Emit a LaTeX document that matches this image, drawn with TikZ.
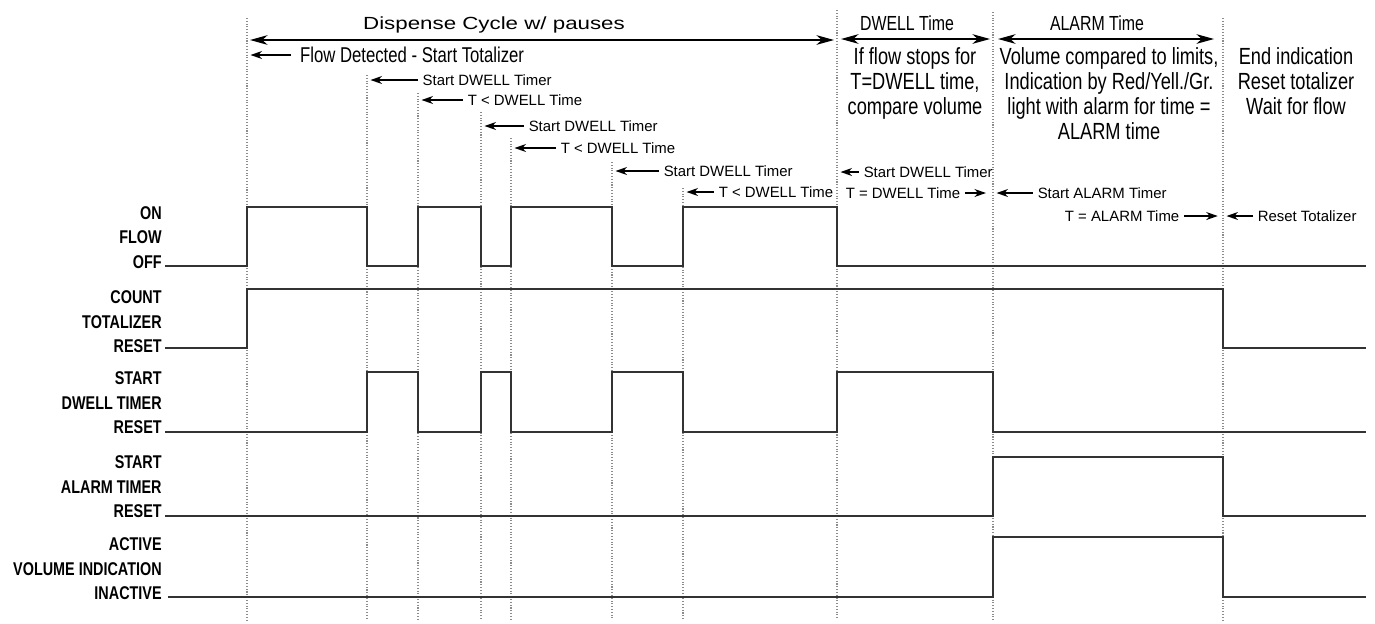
\documentclass[tikz,border=0pt]{standalone}
\usepackage{fontspec}
\setmainfont{Liberation Sans}
\newfontfamily\widefont[FakeStretch=1.27]{Liberation Sans}
\newfontfamily\narrowfont[FakeStretch=0.78]{Liberation Sans}
\usetikzlibrary{arrows.meta}

\begin{document}
\begin{tikzpicture}[x=0.02cm,y=-0.02cm,
    signal/.style ={line width=1pt, draw=black!80},
    gridline/.style ={densely dotted, line width=0.6pt, draw=black!45},
    pointer/.style ={line width=0.9pt, -{Stealth[length=6.5pt,width=4.5pt,inset=2pt]}, shorten >=2pt},
    span/.style ={line width=0.8pt, {Stealth[length=10pt,width=5.5pt,inset=3pt]}-{Stealth[length=10pt,width=5.5pt,inset=3pt]}},
    note/.style ={font=\fontsize{8.5}{10}\selectfont, inner xsep=2.5pt, inner ysep=1pt, text height=6.1pt, text depth=0pt},
    levels/.style ={font=\narrowfont\bfseries\fontsize{10.5}{13.9}\selectfont, align=right, anchor=east, inner sep=0pt},
    descr/.style ={font=\narrowfont\fontsize{13.3}{14.2}\selectfont, align=center, anchor=north, inner sep=0pt},
    header/.style ={font=\narrowfont\fontsize{11.6}{14}\selectfont, anchor=base, inner sep=0pt}]
   \useasboundingbox (0,0) rectangle (1375,623);
   % event lines
   \foreach \n/\x/\top in {t0/247/18, t1/367/75, t2/418/93, t3/481/112, t4/511/138,
       t5/612/162, t6/683/188, t7/837/10, t8/993/12, t9/1223/18} {
     \coordinate (\n) at (\x,\top);
     \draw[gridline] (\n) -- (\x,620);
   }
   % signal names
   \node[levels] (flow) at (162,237.5) {ON\\FLOW\\OFF};
   \node[levels] (tot)  at (162,322)   {COUNT\\TOTALIZER\\RESET};
   \node[levels] (dwl)  at (162,403)   {START\\DWELL TIMER\\RESET};
   \node[levels] (alm)  at (162,487)   {START\\ALARM TIMER\\RESET};
   \node[levels] (vol)  at (162,569)   {ACTIVE\\VOLUME INDICATION\\INACTIVE};
   % waveforms
   \draw[signal] (165,266) -| (247,207) -| (367,266) -| (418,207) -| (481,266) -| (511,207)
       -| (612,266) -| (683,207) -| (837,266) -- (1366,266);
   \draw[signal] (165,348) -| (247,289) -| (1223,348) -- (1366,348);
   \draw[signal] (165,432) -| (367,372) -| (418,432) -| (481,372) -| (511,432) -| (612,372)
       -| (683,432) -| (837,372) -| (993,432) -- (1366,432);
   \draw[signal] (165,516) -| (993,457) -| (1223,516) -- (1366,516);
   \draw[signal] (168,597) -| (993,537) -| (1223,597) -- (1366,597);
   % phases
   \node[font=\widefont\fontsize{10}{12}\selectfont, anchor=base, inner sep=0pt] (cyc) at (494,29) {Dispense Cycle w/ pauses};
   \node[header] (dwt) at (907,30)  {DWELL Time};
   \node[header] (alt) at (1097,30) {ALARM Time};
   \coordinate (cyc-l) at (250,40);
   \coordinate (cyc-r) at (834,40);
   \coordinate (dwt-l) at (841,39);
   \coordinate (dwt-r) at (990,39);
   \coordinate (alt-l) at (998,39);
   \coordinate (alt-r) at (1214,39);
   \draw[span] (cyc-l) -- (cyc-r);
   \draw[span] (dwt-l) -- (dwt-r);
   \draw[span] (alt-l) -- (alt-r);
   \node[descr] (ifs) at (915,47)  {If flow stops for\\T=DWELL time,\\compare volume};
   \node[descr] (vcl) at (1109,47) {Volume compared to limits,\\Indication by Red/Yell./Gr.\\light with alarm for time =\\ALARM time};
   \node[descr] (eid) at (1296,47) {End indication\\Reset totalizer\\Wait for flow};
   % events
   \node[anchor=west, font=\narrowfont\fontsize{12.2}{14}\selectfont, inner xsep=5pt, inner ysep=1pt,
       text height=8.7pt, text depth=0pt] (fd) at (291,55) {Flow Detected - Start Totalizer};
   \node[note, anchor=west] (sd1) at (418,80)  {Start DWELL Timer};
   \node[note, anchor=west] (lt1) at (463,100) {T < DWELL Time};
   \node[note, anchor=west] (sd2) at (524,126) {Start DWELL Timer};
   \node[note, anchor=west] (lt2) at (556,148) {T < DWELL Time};
   \node[note, anchor=west] (sd3) at (659,171) {Start DWELL Timer};
   \node[note, anchor=west] (lt3) at (714,192) {T < DWELL Time};
   \node[note, anchor=west] (sd4) at (859,172) {Start DWELL Timer};
   \node[note, anchor=west] (eqd) at (841,193) {T = DWELL Time};
   \node[note, anchor=west] (sa)  at (1033,193) {Start ALARM Timer};
   \node[note, anchor=east] (eqa) at (1184,216) {T = ALARM Time};
   \node[note, anchor=west] (rt)  at (1253,216) {Reset Totalizer};
   \draw[pointer] (fd.west)  -- (fd.west -| t0);
   \draw[pointer] (sd1.west) -- (sd1.west -| t1);
   \draw[pointer] (lt1.west) -- (lt1.west -| t2);
   \draw[pointer] (sd2.west) -- (sd2.west -| t3);
   \draw[pointer] (lt2.west) -- (lt2.west -| t4);
   \draw[pointer] (sd3.west) -- (sd3.west -| t5);
   \draw[pointer] (lt3.west) -- (lt3.west -| t6);
   \draw[pointer] (sd4.west) -- (sd4.west -| t7);
   \draw[pointer, shorten >=4pt] (eqd.east) -- (eqd.east -| t8);
   \draw[pointer] (sa.west)  -- (sa.west -| t8);
   \draw[pointer, shorten >=3pt] (eqa.east) -- (eqa.east -| t9);
   \draw[pointer] (rt.west)  -- (rt.west -| t9);
\end{tikzpicture}
\end{document}
